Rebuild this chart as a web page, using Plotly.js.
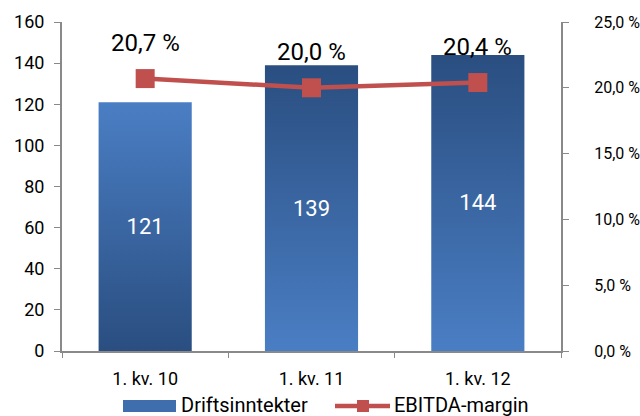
<!DOCTYPE html>
<html><head><meta charset="utf-8">
<script src="https://cdn.plot.ly/plotly-3.0.1.min.js"></script>
<style>html,body{margin:0;padding:0;background:#fff}#chart{width:640px;height:416px}</style>
</head><body><div id="chart"></div>
<script>
const categories = ['1. kv. 10', '1. kv. 11', '1. kv. 12'];
const driftsinntekter = [121, 139, 144];
const ebitdaMargin = [20.7, 20.0, 20.4];
const seriesNames = ['Driftsinntekter', 'EBITDA-margin'];

const fmtPct = v => v.toFixed(1).replace('.', ',') + ' %';
const FONT = 'Roboto, Arial, sans-serif';
const BAR_COLOR = '#3E6EAE';
const LINE_COLOR = '#C0504D';

// plot area in pixels (for legend placement)
const M = {l: 62, r: 79, t: 22, b: 65};
const PW = 640 - M.l - M.r, PH = 416 - M.t - M.b;
const px = x => (x - M.l) / PW;
const py = y => (416 - M.b - y) / PH;

const traces = [
  {
    type: 'bar', name: seriesNames[0], x: categories, y: driftsinntekter,
    marker: {color: BAR_COLOR},
    texttemplate: '%{y}', textposition: 'inside', insidetextanchor: 'middle',
    textfont: {color: '#ffffff', size: 22, family: FONT},
    hoverinfo: 'none', showlegend: false
  },
  {
    type: 'scatter', mode: 'lines+markers', name: seriesNames[1], x: categories, y: ebitdaMargin,
    yaxis: 'y2',
    line: {color: LINE_COLOR, width: 4.5},
    marker: {symbol: 'square', size: 19, color: LINE_COLOR},
    hoverinfo: 'none', showlegend: false
  }
];

const annotations = categories.map((c, i) => ({
  x: c, y: ebitdaMargin[i], xref: 'x', yref: 'y2', yshift: 36,
  text: fmtPct(ebitdaMargin[i]), showarrow: false,
  font: {size: 24, color: '#000', family: FONT}
}));
// legend labels
annotations.push({xref: 'paper', yref: 'paper', x: px(179), y: py(405), xanchor: 'left', yanchor: 'middle',
  text: seriesNames[0], showarrow: false, font: {size: 20, color: '#000', family: FONT}});
annotations.push({xref: 'paper', yref: 'paper', x: px(392), y: py(405), xanchor: 'left', yanchor: 'middle',
  text: seriesNames[1], showarrow: false, font: {size: 20, color: '#000', family: FONT}});

const shapes = [
  {type: 'rect', xref: 'paper', yref: 'paper', x0: px(123), x1: px(176), y0: py(400), y1: py(412),
   fillcolor: BAR_COLOR, line: {width: 0}},
  {type: 'line', xref: 'paper', yref: 'paper', x0: px(335), x1: px(390), y0: py(406), y1: py(406),
   line: {color: LINE_COLOR, width: 4.5}},
  {type: 'rect', xref: 'paper', yref: 'paper', x0: px(357), x1: px(369), y0: py(400), y1: py(412),
   fillcolor: LINE_COLOR, line: {width: 0}}
];

const layout = {
  width: 640, height: 416,
  margin: M,
  paper_bgcolor: '#fff', plot_bgcolor: '#fff',
  separators: ', ',
  showlegend: false,
  bargap: 0.44,
  xaxis: {
    showline: true, linecolor: '#898989', linewidth: 2,
    ticks: 'outside', ticklen: 5, tickcolor: '#898989', tickson: 'boundaries',
    ticklabelstandoff: 10,
    tickfont: {size: 18, family: FONT, color: '#000'},
    showgrid: false, zeroline: false, fixedrange: true
  },
  yaxis: {
    range: [0, 160], dtick: 20, showline: true, linecolor: '#898989', linewidth: 2,
    ticks: 'outside', ticklen: 6, tickcolor: '#898989', ticklabelstandoff: 6,
    tickfont: {size: 18, family: FONT, color: '#000'},
    showgrid: false, zeroline: false, fixedrange: true
  },
  yaxis2: {
    range: [0, 25], dtick: 5, overlaying: 'y', side: 'right',
    tickformat: '.1f', ticksuffix: ' %',
    showline: true, linecolor: '#898989', linewidth: 2,
    ticks: 'outside', ticklen: 6, tickcolor: '#898989', ticklabelstandoff: 22,
    tickfont: {size: 16, family: FONT, color: '#000'},
    showgrid: false, zeroline: false, fixedrange: true
  },
  annotations: annotations,
  shapes: shapes
};

Plotly.newPlot('chart', traces, layout, {displayModeBar: false, staticPlot: true}).then(gd => {
  const svg = gd.querySelector('svg.main-svg');
  let defs = svg.querySelector('defs');
  const NS = 'http://www.w3.org/2000/svg';
  function grad(id, top, bottom) {
    const g = document.createElementNS(NS, 'linearGradient');
    g.setAttribute('id', id); g.setAttribute('x1', '0'); g.setAttribute('y1', '0');
    g.setAttribute('x2', '0'); g.setAttribute('y2', '1');
    [[0, top], [1, bottom]].forEach(([o, c]) => {
      const s = document.createElementNS(NS, 'stop');
      s.setAttribute('offset', o); s.setAttribute('stop-color', c);
      g.appendChild(s);
    });
    defs.appendChild(g);
  }
  grad('gUp', '#4A7EC4', '#2A4E80');
  grad('gDown', '#2A4E80', '#4A7EC4');
  const paths = gd.querySelectorAll('.barlayer .point path');
  paths.forEach((p, i) => { p.style.fill = i === 0 ? 'url(#gUp)' : 'url(#gDown)'; });
});
</script></body></html>
